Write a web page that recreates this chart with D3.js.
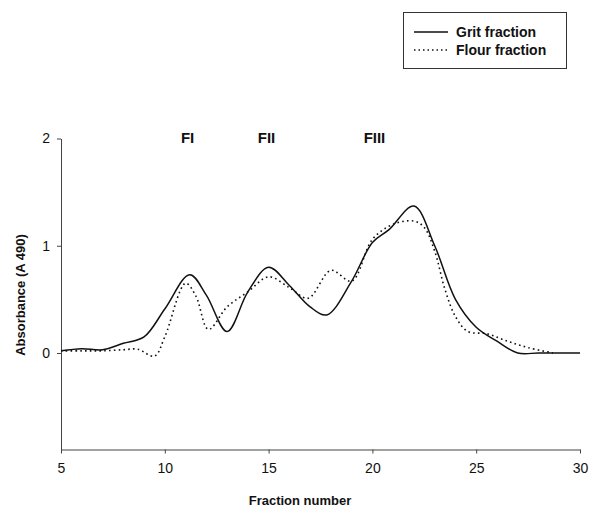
<!DOCTYPE html>
<html lang="en">
  <head>
    <meta charset="UTF-8" />
    <title>Absorbance by fraction number</title>
    <script src="https://d3js.org/d3.v7.min.js"></script>
    <style>
      body {
        margin: 0;
        background: #fff;
        font-family: "Liberation Sans", Arial, sans-serif;
      }
      .axis path,
      .axis line {
        stroke: #444;
      }
      .axis text {
        font-size: 14px;
        fill: #111;
        font-family: "Liberation Sans", Arial, sans-serif;
      }
      .title {
        font-weight: bold;
        font-size: 13px;
        fill: #111;
      }
      .legend-text {
        font-weight: bold;
        font-size: 14px;
        fill: #111;
      }
    </style>
  </head>
  <body>
    <div id="chart"></div>
    <script>
      // values
      const gritX = [5, 6, 7, 8, 9, 10, 11.2, 12, 13, 14, 15, 16, 17, 17.8, 19, 20, 20.8, 22, 23, 24, 25, 26, 27, 28, 29, 30];
      const gritY = [0.02, 0.04, 0.03, 0.09, 0.15, 0.41, 0.73, 0.54, 0.2, 0.57, 0.8, 0.63, 0.43, 0.355, 0.67, 1.03, 1.15, 1.37, 1.0, 0.5, 0.24, 0.11, 0, 0, 0, 0];

      const flourX = [5, 6, 7, 8, 8.7, 9.5, 10, 11, 11.5, 12.1, 13, 14, 15, 16, 16.9, 18, 19, 20, 21, 22, 22.5, 23, 23.5, 24, 24.6, 25.5, 26.5, 27.5, 28.7];
      const flourY = [0.02, 0.02, 0.02, 0.03, 0.035, -0.03, 0.15, 0.65, 0.53, 0.22, 0.43, 0.57, 0.71, 0.61, 0.51, 0.77, 0.67, 1.06, 1.2, 1.23, 1.17, 0.95, 0.59, 0.34, 0.2, 0.18, 0.11, 0.05, 0];

      const xTicks = [5, 10, 15, 20, 25, 30];
      const yTicks = [0, 1, 2];
      const peakLabels = ["FI", "FII", "FIII"];
      const peakLabelX = [11.1, 14.9, 20.1];
      const seriesNames = ["Grit fraction", "Flour fraction"];

      const width = 591;
      const height = 511;

      const svg = d3
        .select("#chart")
        .append("svg")
        .attr("width", width)
        .attr("height", height);

      const x = d3.scaleLinear().domain([5, 30]).range([61, 580]);
      const y = d3.scaleLinear().domain([-0.9, 2]).range([449.5, 138.5]);

      // axes
      svg
        .append("g")
        .attr("class", "axis")
        .attr("transform", "translate(0,449.5)")
        .call(d3.axisBottom(x).tickValues(xTicks).tickSize(4).tickSizeOuter(0).tickPadding(10).tickFormat(d3.format("d")));

      svg
        .append("g")
        .attr("class", "axis")
        .attr("transform", "translate(61,0)")
        .call(d3.axisLeft(y).tickValues(yTicks).tickSize(4).tickSizeOuter(0).tickPadding(7).tickFormat(d3.format("d")));

      // lines
      const line = d3
        .line()
        .x((d) => x(d[0]))
        .y((d) => y(d[1]))
        .curve(d3.curveCatmullRom.alpha(0.5));

      const grit = gritX.map((v, i) => [v, gritY[i]]);
      const flour = flourX.map((v, i) => [v, flourY[i]]);

      svg
        .append("path")
        .datum(flour)
        .attr("d", line)
        .attr("fill", "none")
        .attr("stroke", "#111")
        .attr("stroke-width", 1.6)
        .attr("stroke-dasharray", "1.6,3.2");

      svg
        .append("path")
        .datum(grit)
        .attr("d", line)
        .attr("fill", "none")
        .attr("stroke", "#111")
        .attr("stroke-width", 1.5);

      // peak labels
      svg
        .selectAll(".peak")
        .data(peakLabels)
        .join("text")
        .attr("class", "peak")
        .attr("x", (d, i) => x(peakLabelX[i]))
        .attr("y", 143)
        .attr("text-anchor", "middle")
        .style("font-weight", "bold")
        .style("font-size", "15px")
        .style("fill", "#111")
        .text((d) => d);

      // axis titles
      svg
        .append("text")
        .attr("class", "title")
        .attr("x", 300)
        .attr("y", 505)
        .attr("text-anchor", "middle")
        .text("Fraction number");

      svg
        .append("text")
        .attr("class", "title")
        .attr("transform", "translate(25,295) rotate(-90)")
        .attr("text-anchor", "middle")
        .text("Absorbance (A 490)");

      // legend
      const legend = svg.append("g");
      legend
        .append("rect")
        .attr("x", 403.5)
        .attr("y", 12.5)
        .attr("width", 163)
        .attr("height", 56)
        .attr("fill", "#fff")
        .attr("stroke", "#333")
        .attr("stroke-width", 1);

      seriesNames.forEach((name, i) => {
        const ly = 32 + i * 18;
        legend
          .append("line")
          .attr("x1", 414)
          .attr("x2", 448)
          .attr("y1", ly)
          .attr("y2", ly)
          .attr("stroke", "#111")
          .attr("stroke-width", i === 0 ? 1.5 : 1.4)
          .attr("stroke-dasharray", i === 0 ? null : "1.5,3");
        legend
          .append("text")
          .attr("x", 456)
          .attr("y", ly + 5)
          .attr("class", "legend-text")
          .text(name);
      });
    </script>
  </body>
</html>
